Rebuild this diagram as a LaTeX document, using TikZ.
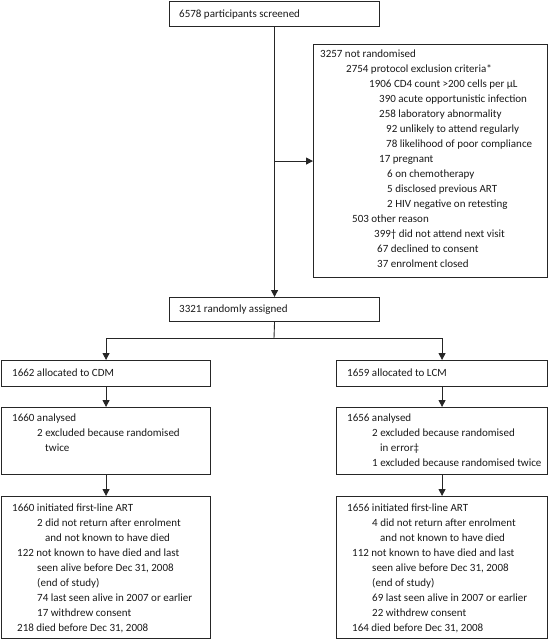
\documentclass[tikz,border=0pt]{standalone}
\usepackage{fontspec}
\setmainfont{Carlito}
\usetikzlibrary{arrows.meta}
\begin{document}
\begin{tikzpicture}[x=1pt,y=-1pt,
  box/.style={draw=black!85,line width=1.1pt,inner sep=0pt,anchor=north west},
  txt/.style={anchor=base west,inner sep=0pt,font=\fontsize{11}{13}\selectfont,text=black!90},
  conn/.style={draw=black!85,line width=0.9pt},
  arr/.style={conn,-{Triangle[width=7pt,length=7pt]}}]
\useasboundingbox (0,0) rectangle (549,639);
% boxes
\node[box,minimum width=210pt,minimum height=25pt] (top) at (169,1) {};
\node[box,minimum width=234pt,minimum height=233pt] (excl) at (313,44) {};
\node[box,minimum width=210pt,minimum height=24pt] (rand) at (169,297) {};
\node[box,minimum width=209pt,minimum height=26pt] (cdm) at (1,360) {};
\node[box,minimum width=211pt,minimum height=26pt] (lcm) at (336,360) {};
\node[box,minimum width=209pt,minimum height=67pt] (anaL) at (1,407) {};
\node[box,minimum width=211pt,minimum height=67pt] (anaR) at (336,407) {};
\node[box,minimum width=209pt,minimum height=142pt] (artL) at (1,496) {};
\node[box,minimum width=211pt,minimum height=142pt] (artR) at (336,496) {};
% texts
\node[txt] (t0) at (179,17.5) {6578 participants screened};
\node[txt] (e0) at (320,57.5) {3257 not randomised};
\node[txt] (e1) at (346,72.5) {2754 protocol exclusion criteria*};
\node[txt] (e2) at (369,87.5) {1906 CD4 count >200 cells per µL};
\node[txt] (e3) at (379,102.5) {390 acute opportunistic infection};
\node[txt] (e4) at (379,117.5) {258 laboratory abnormality};
\node[txt] (e5) at (386,132.5) {92 unlikely to attend regularly};
\node[txt] (e6) at (386,147.5) {78 likelihood of poor compliance};
\node[txt] (e7) at (379,162.5) {17 pregnant};
\node[txt] (e8) at (387,177.5) {6 on chemotherapy};
\node[txt] (e9) at (387,192.5) {5 disclosed previous ART};
\node[txt] (e10) at (387,207.5) {2 HIV negative on retesting};
\node[txt] (e11) at (352,222.5) {503 other reason};
\node[txt] (e12) at (374,237.5) {399† did not attend next visit};
\node[txt] (e13) at (377,252.5) {67 declined to consent};
\node[txt] (e14) at (377,267.5) {37 enrolment closed};
\node[txt] (r0) at (179,312.5) {3321 randomly assigned};
\node[txt] (c0) at (12,376.5) {1662 allocated to CDM};
\node[txt] (l0) at (347,376.5) {1659 allocated to LCM};
\node[txt] (aL0) at (12,421.5) {1660 analysed};
\node[txt] (aL1) at (37,436.5) {2 excluded because randomised};
\node[txt] (aL2) at (45,451.5) {twice};
\node[txt] (aR0) at (347,421.5) {1656 analysed};
\node[txt] (aR1) at (372,436.5) {2 excluded because randomised};
\node[txt] (aR2) at (380,451.5) {in error‡};
\node[txt] (aR3) at (372,466.5) {1 excluded because randomised twice};
\node[txt] (sL0) at (12,511.5) {1660 initiated first-line ART};
\node[txt] (sL1) at (37,526.5) {2 did not return after enrolment};
\node[txt] (sL2) at (45,541.5) {and not known to have died};
\node[txt] (sL3) at (17,556.5) {122 not known to have died and last};
\node[txt] (sL4) at (37,571.5) {seen alive before Dec 31, 2008};
\node[txt] (sL5) at (37,586.5) {(end of study)};
\node[txt] (sL6) at (37,601.5) {74 last seen alive in 2007 or earlier};
\node[txt] (sL7) at (37,616.5) {17 withdrew consent};
\node[txt] (sL8) at (17,631.5) {218 died before Dec 31, 2008};
\node[txt] (sR0) at (347,511.5) {1656 initiated first-line ART};
\node[txt] (sR1) at (372,526.5) {4 did not return after enrolment};
\node[txt] (sR2) at (380,541.5) {and not known to have died};
\node[txt] (sR3) at (352,556.5) {112 not known to have died and last};
\node[txt] (sR4) at (372,571.5) {seen alive before Dec 31, 2008};
\node[txt] (sR5) at (372,586.5) {(end of study)};
\node[txt] (sR6) at (372,601.5) {69 last seen alive in 2007 or earlier};
\node[txt] (sR7) at (372,616.5) {22 withdrew consent};
\node[txt] (sR8) at (352,631.5) {164 died before Dec 31, 2008};
% connectors
\draw[arr] (top.south) -- (rand.north);
\draw[arr] (top.south |- excl.west) -- (excl.west);
\coordinate (br) at (274,338);
\draw[conn] (rand.south) -- (br);
\draw[arr] (br) -| (cdm.north);
\draw[arr] (br) -| (lcm.north);
\draw[arr] (cdm.south) -- (anaL.north);
\draw[arr] (lcm.south) -- (anaR.north);
\draw[arr] (anaL.south) -- (artL.north);
\draw[arr] (anaR.south) -- (artR.north);
\end{tikzpicture}
\end{document}
